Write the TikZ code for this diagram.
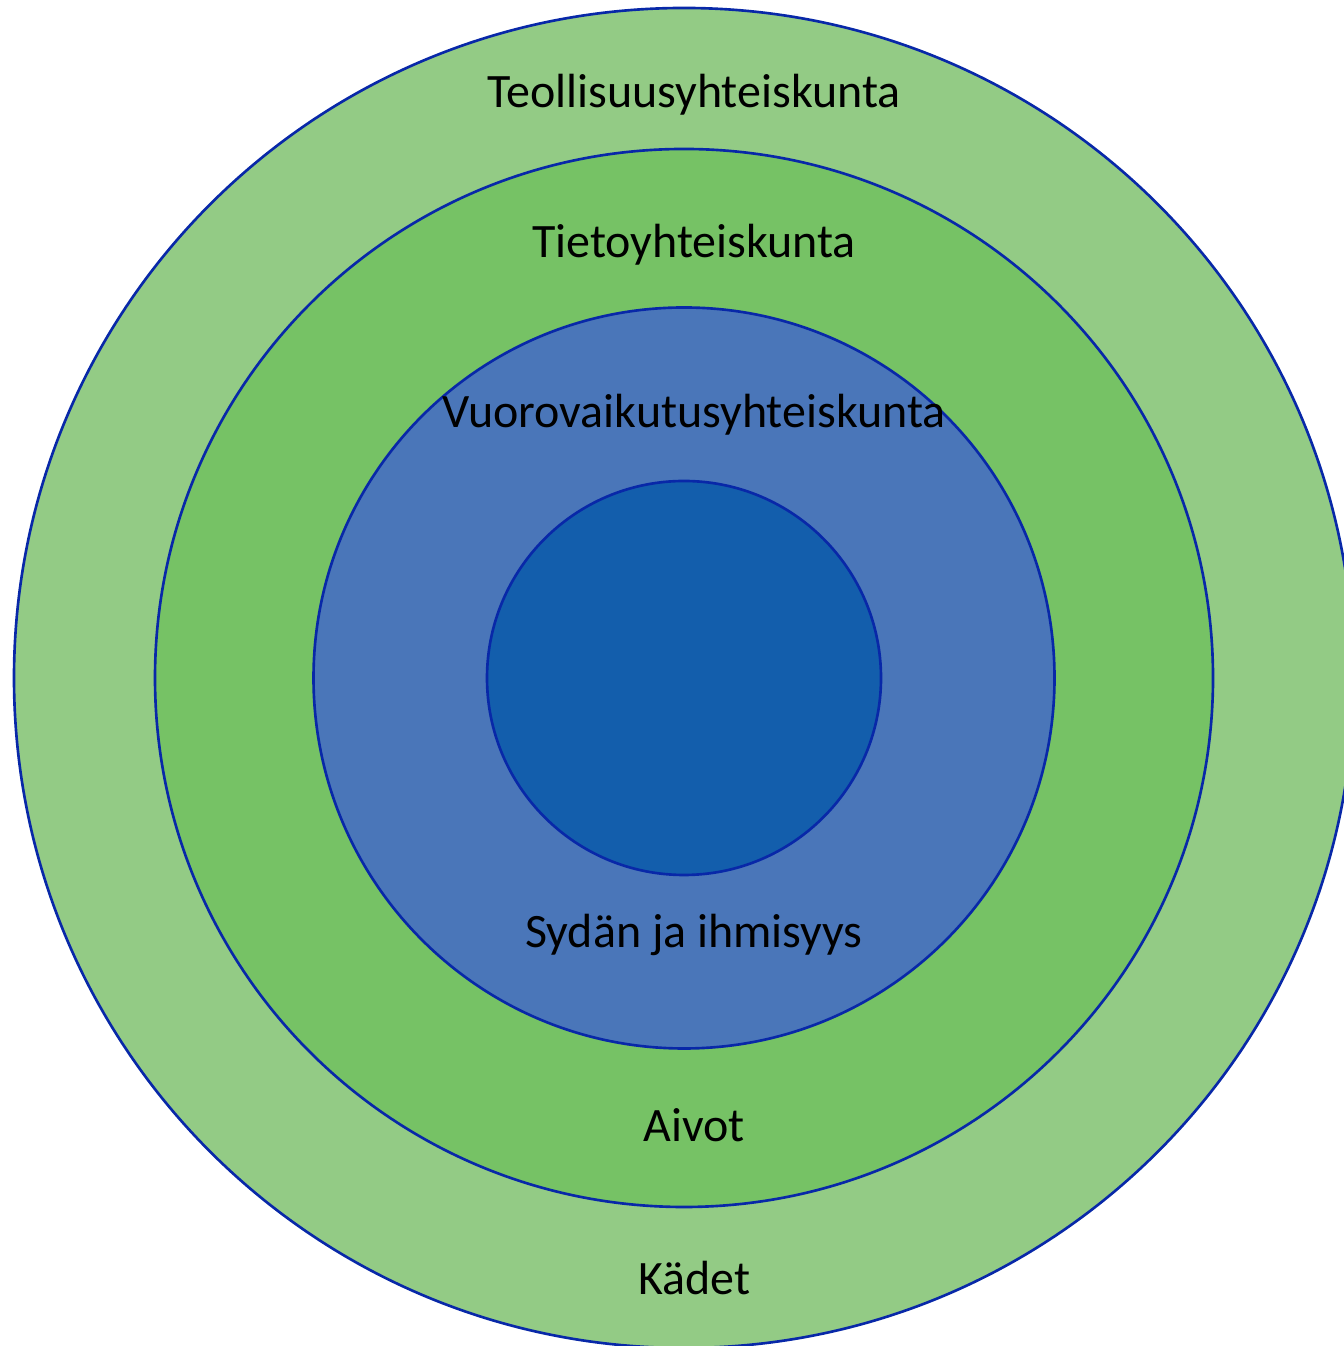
\documentclass[tikz,border=0pt]{standalone}
\usepackage{fontspec}
\setmainfont{Carlito}
\usepackage{tikz}
\usepackage{xcolor}

\begin{document}
\begin{tikzpicture}[x=1cm,y=1cm]
    \fontsize{13.65pt}{16pt}\selectfont
    \definecolor{kadet}{RGB}{147,203,133};
    \definecolor{aivot}{RGB}{118,194,101};
    \definecolor{sydan}{RGB}{74,118,185};
    \definecolor{ydin}{RGB}{19,94,172};
    \definecolor{reuna}{RGB}{8,40,168};
    \tikzset{ring/.style={circle,draw=reuna,line width=0.75pt,inner sep=0pt}}
    \useasboundingbox (0,0) rectangle (13.43,13.46);
    \coordinate (centre) at (6.84,6.68);

    \node[ring,fill=kadet,minimum size=13.40cm] (outer) at (centre) {};
    \node[ring,fill=aivot,minimum size=10.58cm] (second) at (centre) {};
    \node[ring,fill=sydan,minimum size=7.41cm] (third) at (centre) {};
    \node[ring,fill=ydin,minimum size=3.94cm] (inner) at (centre) {};

    \node (teol) at (6.94,12.51) {Teollisuusyhteiskunta};
    \node (tieto) at (6.94,11.01) {Tietoyhteiskunta};
    \node (vuoro) at (6.94,9.31) {Vuorovaikutusyhteiskunta};
    \node (sydan) at (6.94,4.11) {Sydän ja ihmisyys};
    \node (aivot) at (6.94,2.21) {Aivot};
    \node (kadet) at (6.94,0.68) {Kädet};
  \end{tikzpicture}
\end{document}
